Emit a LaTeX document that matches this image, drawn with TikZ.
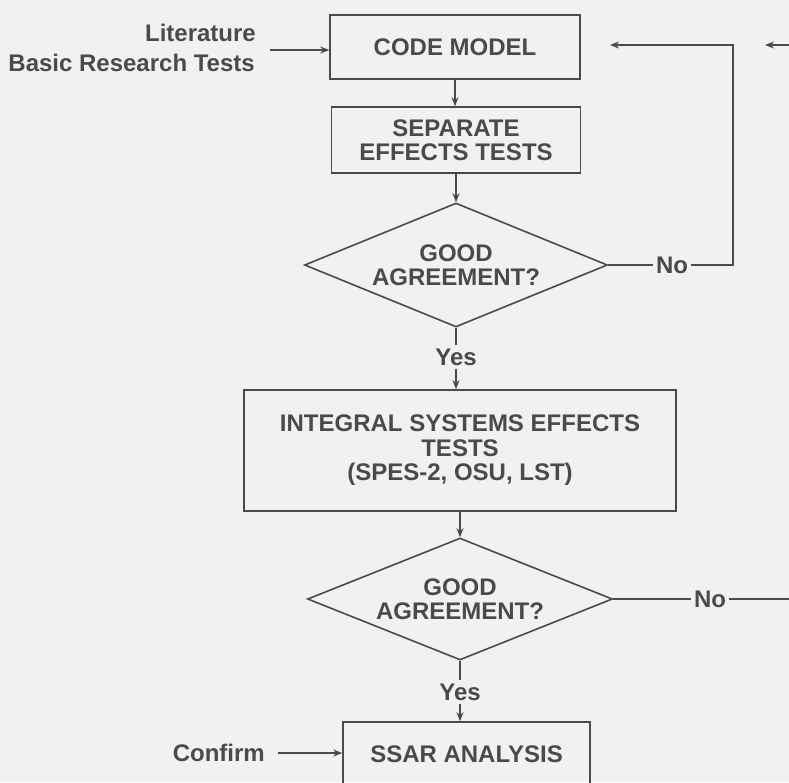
\documentclass[tikz,border=0pt]{standalone}
\usepackage{fontspec}
\setmainfont{Liberation Sans}
\usetikzlibrary{shapes.geometric,arrows.meta}
\definecolor{ink}{RGB}{74,74,74}
\definecolor{paper}{RGB}{241,241,239}
\begin{document}
\begin{tikzpicture}[x=1pt,y=-1pt,
  every node/.style={font=\fontsize{24}{24.5}\selectfont\bfseries, text=ink},
  box/.style={draw=ink, line width=1.6pt, align=center, inner sep=0pt},
  decision/.style={draw=ink, line width=1.6pt, diamond, aspect=2.4, align=center, inner sep=0pt},
  link/.style={draw=ink, line width=1.6pt},
  flow/.style={link, -{Stealth[length=9pt,width=7pt]}},
  lbl/.style={inner xsep=3pt, inner ysep=3pt}]

% page
\useasboundingbox (0,0) rectangle (789,782);
\fill[paper] (0,0) rectangle (789,782);
\clip (0,0) rectangle (789,782);

% process boxes and decisions
\node[box, minimum width=250pt, minimum height=64pt] (code) at (455,47) {CODE MODEL};
\node[box, minimum width=249pt, minimum height=66pt] (sep) at (456,140) {SEPARATE\\EFFECTS TESTS};
\node[decision, minimum width=303pt, minimum height=124pt] (d1) at (456,265) {GOOD\\AGREEMENT?};
\node[lbl] (yes1) at (456,357) {Yes};
\node[box, minimum width=432pt, minimum height=121pt] (its) at (460,450.5) {INTEGRAL SYSTEMS EFFECTS\\TESTS\\(SPES-2, OSU, LST)};
\node[decision, minimum width=305pt, minimum height=122pt] (d2) at (460,599) {GOOD\\AGREEMENT?};
\node[lbl] (yes2) at (460,692) {Yes};
\node[box, minimum width=247pt, minimum height=64pt] (ssar) at (466.5,754) {SSAR ANALYSIS};

% side inputs
\node[lbl, anchor=east] (lit) at (259,33) {Literature};
\node[lbl, anchor=east] (basic) at (258,63) {Basic Research Tests};
\node[lbl, anchor=east] (confirm) at (268,753) {Confirm};
\coordinate (in1) at (270,50);

% branch labels
\node[lbl] (no1) at (672,265) {No};
\node[lbl] (no2) at (710,599) {No};

% return paths
\coordinate (loop1) at (733,45);
\coordinate (ret1) at (610,45);
\coordinate (edge1) at (789,45);
\coordinate (ret2) at (765,45);
\coordinate (edge2) at (789,599);

% main flow
\draw[flow] (code.south) -- (code.south |- sep.north);
\draw[flow] (sep.south) -- (sep.south |- d1.north);
\draw[link] (d1.south) -- (yes1.north);
\draw[flow] (yes1.south) -- (yes1.south |- its.north);
\draw[flow] (its.south -| d2.north) -- (d2.north);
\draw[link] (d2.south) -- (yes2.north);
\draw[flow] (yes2.south) -- (yes2.south |- ssar.north);

% inputs
\draw[flow] (in1) -- (in1 -| code.west);
\draw[flow] ([xshift=10pt]confirm.east) -- (ssar.west |- confirm.east);

% "No" branches
\draw[link] (d1.east) -- (no1.west);
\draw[flow] (no1.east) -| (loop1) -- (ret1);
\draw[link] (d2.east) -- (no2.west);
\draw[link] (no2.east) -- (edge2);
\draw[flow] (edge1) -- (ret2);
\end{tikzpicture}
\end{document}
